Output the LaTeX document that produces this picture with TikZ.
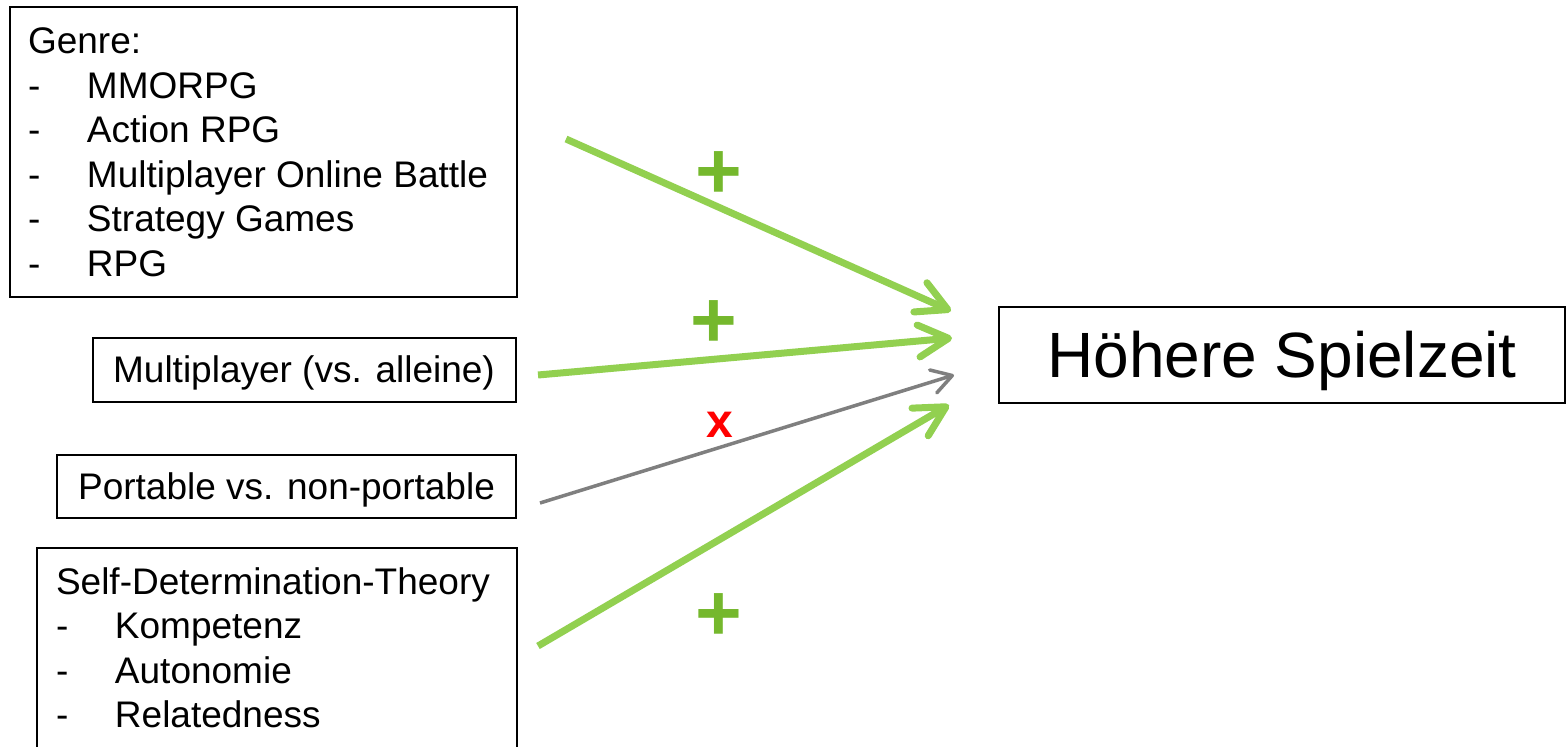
\documentclass[tikz,border=0pt]{standalone}
\usepackage{fontspec}
\setmainfont{Liberation Sans}
\usetikzlibrary{arrows.meta}
\definecolor{arrowgreen}{HTML}{92D050}
\definecolor{plusgreen}{HTML}{75B82D}
\definecolor{arrowgray}{HTML}{7F7F7F}
\definecolor{xred}{HTML}{FF0000}
\setlength{\parindent}{0pt}
\newcommand{\boxcontent}[5]{%
  \begin{minipage}[c][#2][t]{#1}\raggedright\setlength{\leftskip}{#3}%
  \fontsize{37}{44.6}\selectfont\vspace*{#4}#5\end{minipage}}
\newcommand{\itm}[1]{\makebox[59pt][l]{-}#1}
\begin{document}
\begin{tikzpicture}[x=1pt,y=-1pt,
  box/.style={draw=black, line width=2pt, inner sep=0pt, fill=white},
  smallbox/.style={box, font=\fontsize{37}{44.6}\selectfont, text height=27pt, text depth=1.5pt},
  greenarrow/.style={draw=arrowgreen, line width=7pt,
    -{Straight Barb[length=30pt,width=32pt,round]}},
  grayarrow/.style={draw=arrowgray, line width=3.5pt,
    -{Straight Barb[length=20pt,width=24pt,round]}},
  plussign/.style={text=plusgreen, inner sep=0pt, font=\bfseries\fontsize{80}{80}\selectfont},
  xsign/.style={text=xred, inner sep=0pt, font=\bfseries\fontsize{48}{48}\selectfont}]
\useasboundingbox (0,0) rectangle (1567,747);
\clip (0,0) rectangle (1567,747);
\fill[white] (0,0) rectangle (1567,747);

\node[box, anchor=north west] (genre) at (9,6) {\boxcontent{507pt}{290pt}{18pt}{16.5pt}{%
  \rule{0pt}{30pt}Genre:\\
  \itm{MMORPG}\\
  \itm{Action RPG}\\
  \itm{Multiplayer Online Battle}\\
  \itm{Strategy Games}\\
  \itm{RPG}}};

\node[smallbox, minimum width=423pt, minimum height=64pt] (multi) at (304,370) {Multiplayer (vs. alleine)};
\node[smallbox, minimum width=459pt, minimum height=63pt] (port) at (286.5,486.5) {Portable vs. non-portable};

\node[box, anchor=north west] (sdt) at (36,547) {\boxcontent{480pt}{230pt}{19pt}{16pt}{%
  \rule{0pt}{30pt}Self-Determination-Theory\\
  \itm{Kompetenz}\\
  \itm{Autonomie}\\
  \itm{Relatedness}}};

\node[box, minimum width=566pt, minimum height=96pt, font=\fontsize{64}{77}\selectfont,
  text height=47pt, text depth=1.4pt] (goal) at (1282,355) {Höhere Spielzeit};

\coordinate (genre-out) at (566,139);
\coordinate (multi-out) at (538,375);
\coordinate (port-out) at (540,503);
\coordinate (sdt-out) at (538,646);
\coordinate (goal-in1) at (951,311);
\coordinate (goal-in2) at (952,338);
\coordinate (goal-in3) at (954,375);
\coordinate (goal-in4) at (949,405);

\draw[greenarrow] (genre-out) -- (goal-in1);
\draw[greenarrow] (multi-out) -- (goal-in2);
\draw[grayarrow] (port-out) -- (goal-in3);
\draw[greenarrow] (sdt-out) -- (goal-in4);

\node[plussign] (plus1) at (719,175) {+};
\node[plussign] (plus2) at (714,324) {+};
\node[plussign] (plus3) at (719,617) {+};
\node[xsign] (cross) at (720,425) {x};
\end{tikzpicture}
\end{document}
